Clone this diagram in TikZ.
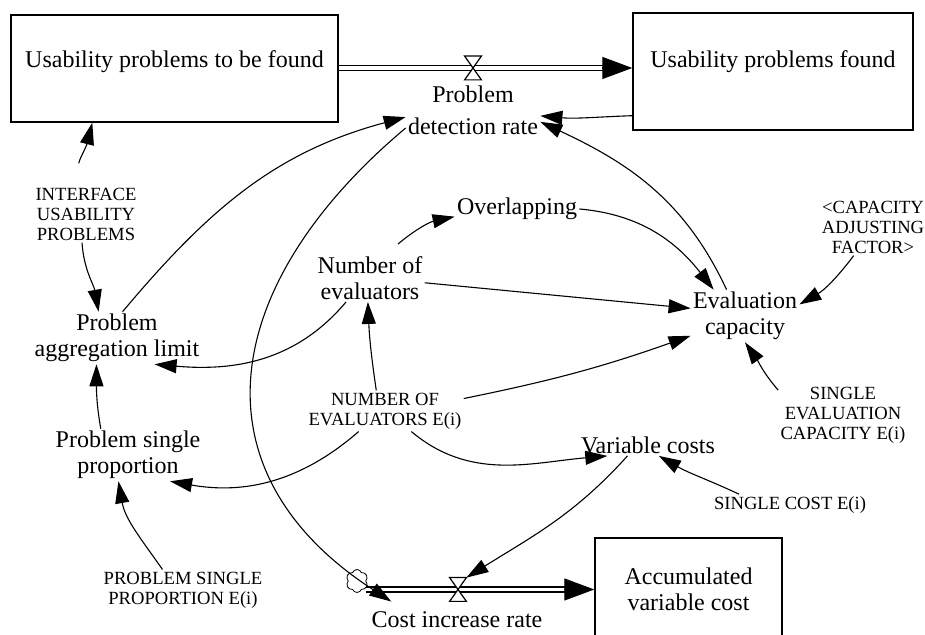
\documentclass[tikz,border=0pt]{standalone}
\usepackage{fontspec}
\setmainfont{Liberation Serif}
\usetikzlibrary{arrows.meta,shapes.symbols}
\tikzstyle{stock}=[rectangle,draw,line width=0.7pt,align=center,font=\fontsize{12}{13}\selectfont]
\tikzstyle{aux}=[inner sep=1pt,align=center,font=\fontsize{12}{13}\selectfont]
\tikzstyle{const}=[inner sep=1pt,align=center,font=\fontsize{9.3}{10}\selectfont]
\tikzstyle{valve}=[inner sep=0pt,minimum width=8pt,minimum height=11.5pt]
\tikzstyle{source}=[cloud,draw,cloud puffs=6,cloud puff arc=140,minimum width=11pt,minimum height=11.5pt,inner sep=0pt,line width=0.4pt]
\tikzstyle{link} = [draw,line width=0.55pt,-{Triangle[length=11pt,width=7pt]}]
\tikzstyle{pipe} = [draw,line width=0.6pt,double,double distance=1.9pt]
\tikzstyle{pipehead} = [draw,line width=0.6pt,-{Triangle[length=15pt,width=11pt]}]

\begin{document}
\begin{tikzpicture}[x=0.5pt,y=0.5pt]
\useasboundingbox (0,0) rectangle (925,635);

% Stocks
\node[stock,minimum width=163.5pt,minimum height=53.5pt,text depth=9pt] (tobefound) at (174.5,566.5) {Usability problems to be found};
\node[stock,minimum width=140pt,minimum height=58.5pt,text depth=12pt] (found) at (773,563.5) {Usability problems found};
\node[stock,minimum width=93.5pt,minimum height=51pt] (acccost) at (688.5,46) {Accumulated\\variable cost};

% Valves and cloud
\node[valve] (v1) at (473,567) {};
\node[valve] (v2) at (458,45.5) {};
\node[source] (cl) at (357,54) {};

% Flows
\coordinate (f1) at (found.west |- v1);
\coordinate (f2) at (acccost.west |- v2);
\path[pipe] (tobefound.east |- v1) -- ([shift={(-26,0)}]f1);
\path[pipehead] ([shift={(-30,0)}]f1) -- (f1);
\path[pipe] (cl.east |- v2) -- ([shift={(-26,0)}]f2);
\path[pipehead] ([shift={(-30,0)}]f2) -- (f2);
\foreach \v in {v1,v2}
    \draw[line width=0.6pt,fill=white] (\v.north west) -- (\v.north east) -- (\v.south west) -- (\v.south east) -- cycle;

% Variables
\foreach \pos/\name/\txt in {{(473,525)/pdr/{Problem\\[3pt]detection rate}}, {(457,15)/cir/{Cost increase rate}},
    {(517,426)/over/{Overlapping}}, {(370,357)/nev/{Number of\\evaluators}}, {(745,319)/evc/{Evaluation\\capacity}},
    {(117,297)/agg/{Problem\\aggregation limit}}, {(128,180)/psp/{Problem single\\proportion}}, {(648,190)/varc/{Variable costs}}}
    \node[aux] (\name) at \pos {\txt};

% Constants
\foreach \pos/\name/\txt in {{(86,421)/iup/{INTERFACE\\USABILITY\\PROBLEMS}}, {(385,224)/nevi/{NUMBER OF\\EVALUATORS E(i)}},
    {(873,408)/caf/{<CAPACITY\\ADJUSTING\\FACTOR>}}, {(843,220)/sec/{SINGLE\\EVALUATION\\CAPACITY E(i)}},
    {(790,130)/sc/{SINGLE COST E(i)}}, {(183,45)/pspi/{PROBLEM SINGLE\\PROPORTION E(i)}}}
    \node[const] (\name) at \pos {\txt};

% Links
\draw[link,shorten <=11pt] ([shift={(-8,0)}]iup.north) to[out=88,in=256] ([shift={(82,0)}]tobefound.south west);
\draw[link] ([shift={(-4,0)}]iup.south) to[out=-86,in=100] (agg.125);
\draw[link] (agg.78) to[out=50,in=195] (pdr.186);
\draw[link] (nev.225) to[out=230,in=-5] (agg.-35);
\draw[link] (psp.136) to[out=100,in=-90] (agg.232);
\draw[link] (pspi.135) to[out=125,in=-80] (psp.250);
\draw[link] (nevi.218) to[out=221,in=-10] (psp.-32);
\draw[link] (nevi.113) to[bend left=3] (nev.265);
\draw[link] (nevi.9) to[bend right=4] (evc.200);
\draw[link] (nevi.-38) to[out=-40,in=185] (varc.195);
\draw[link] ([shift={(28,10)}]nev.north) to[out=40,in=192] (over.187);
\draw[link] (over.east) to[out=-5,in=128] (evc.140);
\draw[link] (nev.-5) -- (evc.172);
\draw[link] (evc.125) to[out=115,in=-25] (pdr.-10);
\draw[link] ([shift={(0,15)}]found.south west) to[out=182,in=-5] (pdr.-5);
\draw[link] (caf.236) to[out=233,in=30] (evc.12);
\draw[link] (sec.159) to[out=131,in=-55] (evc.270);
\draw[link] (sc.168) to[out=155,in=-30] (varc.-45);
\draw[link] (varc.208) to[out=228,in=32] (v2.north east);
\draw[link] (pdr.195) to[out=220,in=147,looseness=1.3] ([shift={(22,8)}]cir.north west);

\end{tikzpicture}
\end{document}
